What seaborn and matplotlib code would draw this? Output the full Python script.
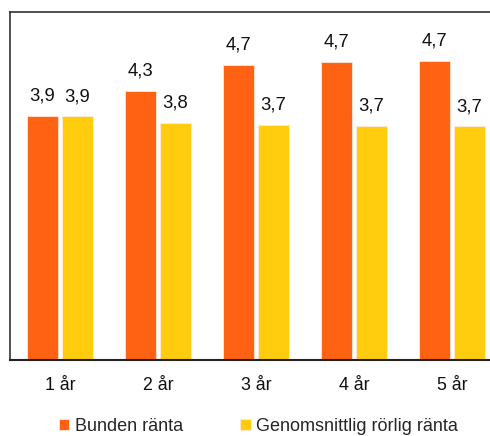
import matplotlib
matplotlib.use("Agg")
import matplotlib.pyplot as plt
import seaborn as sns
import pandas as pd

# Interest rates by fixed-rate period (%)
periods = ["1 år", "2 år", "3 år", "4 år", "5 år"]
bunden = [3.87, 4.26, 4.67, 4.72, 4.74]
rorlig = [3.86, 3.76, 3.72, 3.71, 3.70]
series_names = ["Bunden ränta", "Genomsnittlig rörlig ränta"]
colors = ["#FF6212", "#FFCC0E"]

df = pd.DataFrame({
    "period": periods * 2,
    "value": bunden + rorlig,
    "series": [series_names[0]] * len(periods) + [series_names[1]] * len(periods),
})

sns.set_theme(style="white")
plt.rcParams["font.family"] = ["Liberation Sans", "DejaVu Sans"]

fig = plt.figure(figsize=(4.9, 4.36), dpi=100)
ax = fig.add_axes([10 / 490, 76 / 436, 491 / 490, 348 / 436])

sns.barplot(data=df, x="period", y="value", hue="series", palette=colors,
            saturation=1, width=0.71, gap=0.1, edgecolor="#FFE8DA",
            linewidth=0.6, ax=ax, legend=True)

for cont in ax.containers:
    labels = [f"{b.get_height():.1f}".replace(".", ",") for b in cont]
    ax.bar_label(cont, labels=labels, padding=8, fontsize=13.3, color="#111111")

ax.set_xlim(-0.51, 4.5)
ax.set_ylim(0, 5.51)
ax.set_xlabel("")
ax.set_ylabel("")
ax.set_yticks([])
ax.tick_params(axis="x", length=0, pad=12, labelsize=12.8, labelcolor="#111111")

for side in ["top", "left", "right"]:
    ax.spines[side].set_color("#222222")
    ax.spines[side].set_linewidth(1.1)
ax.spines["bottom"].set_color("#222222")
ax.spines["bottom"].set_linewidth(1.5)

handles, lbls = ax.get_legend_handles_labels()
ax.get_legend().remove()
fig.legend(handles, lbls, loc="center", bbox_to_anchor=(0.527, 0.022), ncol=2,
           frameon=False, fontsize=13, handlelength=0.6, handleheight=0.6,
           handletextpad=0.3, columnspacing=3.15, borderpad=0.1)

fig.savefig("out.png", dpi=100)
